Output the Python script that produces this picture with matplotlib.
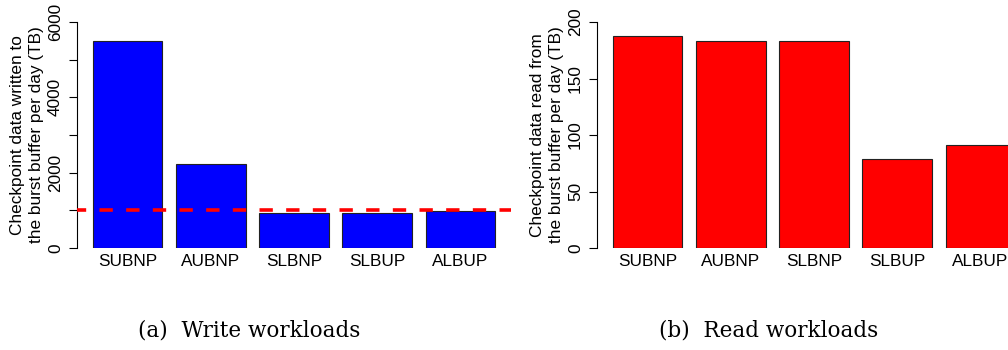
import matplotlib
matplotlib.use("Agg")
import matplotlib.pyplot as plt
import numpy as np

categories = ["SUBNP", "AUBNP", "SLBNP", "SLBUP", "ALBUP"]
write_tb = [5495, 2238, 921, 921, 982]
read_tb = [188, 183.5, 183.5, 78.5, 91.4]
write_threshold = 1000
write_ticks = [0, 1000, 2000, 3000, 4000, 5000, 6000]
write_ticklabels = ["0", "", "2000", "", "4000", "", "6000"]
read_ticks = [0, 50, 100, 150, 200]
read_ticklabels = ["0", "50", "100", "150", "200"]
captions = ["(a)  Write workloads", "(b)  Read workloads"]
ylabels = ["Checkpoint data written to\nthe burst buffer per day (TB)",
           "Checkpoint data read from\nthe burst buffer per day (TB)"]

plt.rcParams['font.family'] = ['Liberation Sans', 'DejaVu Sans']
plt.rcParams['lines.scale_dashes'] = False

W, H = 1008, 350
fig = plt.figure(figsize=(W / 100, H / 100), dpi=100)

FS = 12.4
centers = 0.7 + 1.2 * np.arange(len(categories))
xlim = (-0.032, 6.232)


def make_axes(left_px, values, color, ticks, ticklabels, ylim, ylabel):
    ax = fig.add_axes([left_px / W, 102 / H, 434 / W, 226 / H])
    ax.bar(centers, values, width=1.0, color=color, edgecolor="#222222",
           linewidth=0.8, zorder=2)
    ax.set_xlim(*xlim)
    ax.set_ylim(*ylim)
    for s in ["top", "right", "bottom"]:
        ax.spines[s].set_visible(False)
    ax.spines["left"].set_linewidth(0.8)
    ax.spines["left"].set_bounds(ticks[0], ticks[-1])
    ax.set_yticks(ticks)
    ax.set_yticklabels(ticklabels, rotation=90, va="center", fontsize=FS)
    ax.tick_params(axis="y", length=6, width=0.8, pad=4)
    ax.set_xticks(centers)
    ax.set_xticklabels(categories, fontsize=FS)
    ax.tick_params(axis="x", length=0, pad=4)
    ax.set_ylabel(ylabel, fontsize=FS, linespacing=1.3, labelpad=3)
    return ax


ax1 = make_axes(77, write_tb, "#0000ff", write_ticks, write_ticklabels,
                (0, 6000), ylabels[0])
line = ax1.axhline(write_threshold, color="#ff0000", linewidth=2.6,
                   zorder=3, clip_on=False)
line.set_linestyle((3.0, (9.6, 9.6)))

ax2 = make_axes(597, read_tb, "#ff0000", read_ticks, read_ticklabels,
                (0, 200), ylabels[1])

for cx, txt in zip([249, 769], captions):
    fig.text(cx / W, 1 - 331 / H, txt, ha="center", va="center",
             fontsize=15.5, family="DejaVu Serif")

fig.savefig("out.png", dpi=100)
